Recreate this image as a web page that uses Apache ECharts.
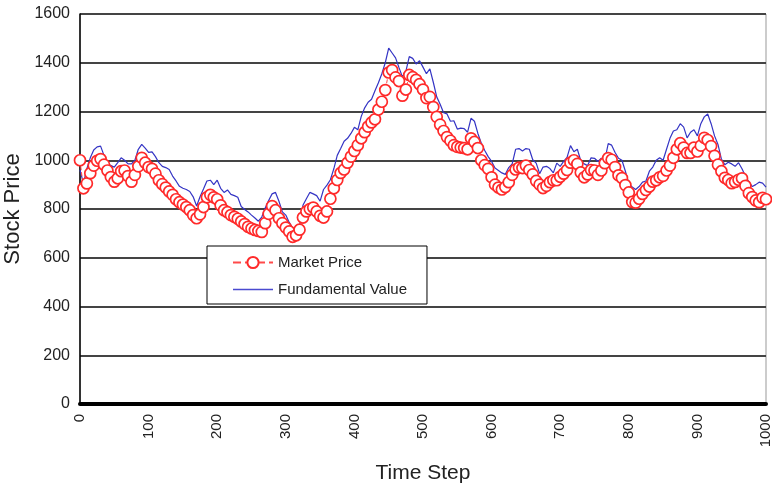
<!DOCTYPE html>
<html>
<head>
<meta charset="utf-8">
<script src="https://cdn.jsdelivr.net/npm/echarts@6/dist/echarts.min.js"></script>
<style>
  html, body { margin: 0; padding: 0; background: #fff; }
  #chart { width: 772px; height: 487px; }
</style>
</head>
<body>
<div id="chart"></div>
<script>
// Samples are taken every STEP time steps, starting at step 0.
const STEP = 5;

const seriesNames = ['Market Price', 'Fundamental Value'];

// Fundamental value, one sample every STEP steps (0 .. 1000)
const fundamentalValue = [
  960, 905, 965, 1010, 1042, 1055, 1058, 1020, 990, 978,
  972, 990, 1010, 1000, 985, 985, 1000, 1045, 1065, 1050,
  1032, 1034, 1015, 990, 975, 970, 962, 935, 915, 893,
  885, 880, 872, 850, 812, 850, 882, 915, 918, 900,
  918, 885, 868, 878, 860, 855, 848, 810, 798, 788,
  775, 763, 750, 767, 804, 835, 862, 868, 832, 788,
  775, 745, 722, 710, 730, 815, 842, 868, 862, 855,
  832, 880, 898, 920, 965, 1020, 1048, 1078, 1090, 1110,
  1135, 1125, 1180, 1215, 1238, 1250, 1285, 1318, 1355, 1400,
  1460, 1440, 1420, 1380, 1342, 1365, 1425, 1418, 1395, 1408,
  1382, 1355, 1375, 1320, 1260, 1230, 1195, 1190, 1160, 1162,
  1128, 1132, 1130, 1115, 1172, 1160, 1110, 1070, 1040, 1015,
  995, 968, 958, 948, 942, 970, 985, 1045, 1048, 1038,
  1048, 1045, 1002, 988, 945, 972, 975, 966, 948, 988,
  975, 995, 1012, 1060, 1035, 1045, 998, 985, 978, 1010,
  1008, 995, 1008, 1000, 1068, 1062, 1032, 1008, 1000, 955,
  905, 890, 880, 892, 910, 915, 955, 972, 1000, 1010,
  1000, 1045, 1090, 1120, 1125, 1150, 1136, 1092, 1115, 1125,
  1100, 1150, 1178, 1190, 1150, 1100, 1065, 1005, 982, 992,
  985, 975, 990, 965, 935, 912, 892, 900, 910, 906,
  890
];

// Market price, one sample every STEP steps (0 .. 1000)
const marketPrice = [
  1000, 885, 905, 947, 978, 998, 1005, 982, 958, 931,
  912, 926, 955, 958, 935, 912, 940, 975, 1010, 990,
  972, 965, 945, 918, 902, 888, 872, 858, 840, 828,
  818, 808, 795, 775, 762, 778, 808, 848, 858, 848,
  840, 815, 795, 787, 775, 768, 760, 749, 738, 727,
  720, 714, 710, 706, 742, 780, 812, 795, 762, 742,
  724, 708, 686, 692, 715, 765, 790, 800, 806, 790,
  772, 765, 790, 842, 885, 919, 948, 962, 990, 1015,
  1038, 1062, 1090, 1115, 1138, 1155, 1168, 1208, 1240, 1288,
  1360, 1370, 1340, 1325, 1265, 1290, 1350, 1341, 1330, 1312,
  1290, 1255, 1260, 1218, 1178, 1146, 1120, 1095, 1080, 1062,
  1055, 1052, 1050, 1045, 1090, 1075, 1050, 1000, 980, 965,
  930, 900, 888, 880, 890, 910, 940, 962, 970, 968,
  978, 960, 942, 915, 900, 886, 895, 910, 918, 918,
  932, 945, 960, 990, 1000, 985, 950, 930, 942, 960,
  958, 940, 958, 988, 1009, 1002, 972, 938, 927, 898,
  868, 829, 826, 842, 862, 878, 892, 912, 918, 930,
  936, 958, 978, 1010, 1045, 1070, 1052, 1030, 1030, 1052,
  1036, 1060, 1092, 1083, 1058, 1018, 982, 955, 928, 919,
  906, 911, 920, 926, 895, 865, 849, 835, 828, 846,
  840
];

const toPoints = values => values.map((v, i) => [i * STEP, v]);
const plainNumber = v => String(v);

const FONT = '"Liberation Sans", Arial, sans-serif';

const chart = echarts.init(document.getElementById('chart'), null, { renderer: 'canvas' });

chart.setOption({
  animation: false,
  backgroundColor: '#fff',
  grid: {
    left: 80, right: 6, top: 14, bottom: 83,
    containLabel: false,
    outerBoundsMode: 'none',
    show: true,
    borderColor: '#999',
    borderWidth: 1
  },
  legend: {
    data: [
      { name: seriesNames[0] },
      // plain line icon, no marker
      { name: seriesNames[1], itemStyle: { opacity: 0 }, lineStyle: { color: '#4a4ad0', width: 1.5, type: 'solid', opacity: 1 } }
    ],
    orient: 'vertical',
    left: 207,
    top: 246,
    padding: [9, 20, 7, 25],
    itemWidth: 40,
    itemHeight: 14,
    itemGap: 12,
    backgroundColor: '#fff',
    borderColor: '#000',
    borderWidth: 1,
    textStyle: { fontFamily: FONT, fontSize: 15, color: '#222' }
  },
  xAxis: {
    type: 'value',
    min: 0,
    max: 1000,
    interval: 100,
    name: 'Time Step',
    nameLocation: 'middle',
    nameGap: 59,
    nameTextStyle: { fontFamily: FONT, fontSize: 21, color: '#222' },
    axisLine: { show: true, onZero: false, lineStyle: { color: '#000', width: 4 } },
    axisTick: { show: false },
    splitLine: { show: false },
    axisLabel: { rotate: 90, margin: 10, fontFamily: FONT, fontSize: 15, color: '#222', formatter: plainNumber }
  },
  yAxis: {
    type: 'value',
    min: 0,
    max: 1600,
    interval: 200,
    name: 'Stock Price',
    nameLocation: 'middle',
    nameGap: 50,
    nameTextStyle: { fontFamily: FONT, fontSize: 22, color: '#222' },
    axisLine: { show: true, lineStyle: { color: '#000', width: 1.5 } },
    axisTick: { show: false },
    splitLine: { show: true, lineStyle: { color: '#444', width: 2 } },
    axisLabel: { margin: 10, fontFamily: FONT, fontSize: 16, color: '#222', formatter: plainNumber }
  },
  series: [
    {
      name: seriesNames[0],
      type: 'line',
      data: toPoints(marketPrice),
      z: 3,
      symbol: 'circle',
      symbolSize: 11,
      itemStyle: { color: '#fff', borderColor: '#ff2a2a', borderWidth: 1.7 },
      lineStyle: { color: '#ff4a4a', width: 1, type: 'dashed' }
    },
    {
      name: seriesNames[1],
      type: 'line',
      data: toPoints(fundamentalValue),
      z: 2,
      showSymbol: false,
      lineStyle: { color: '#3434c4', width: 1.2 }
    }
  ]
});
</script>
</body>
</html>
